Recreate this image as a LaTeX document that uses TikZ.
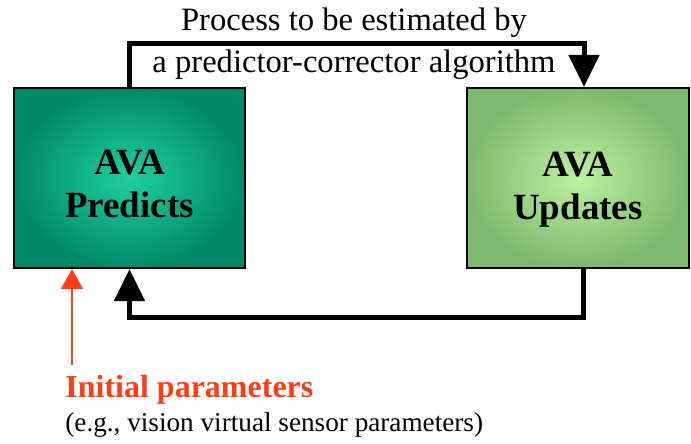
\documentclass[tikz,border=0pt]{standalone}
\usepackage{fontspec}
\setmainfont{Liberation Serif}
\usetikzlibrary{arrows.meta, positioning}

\definecolor{predictdark}{RGB}{0,138,103}
\definecolor{predictlight}{RGB}{30,208,160}
\definecolor{updatedark}{RGB}{125,185,110}
\definecolor{updatelight}{RGB}{188,242,160}
\definecolor{initred}{RGB}{255,60,20}

\begin{document}
\begin{tikzpicture}[
  x=0.5pt, y=-0.5pt,
  stage/.style={rectangle, draw=black, line width=1.1pt, align=center,
    minimum height=90pt, font=\fontsize{18.5}{21.5}\selectfont\bfseries},
  flow/.style={line width=2.5pt, -{Triangle[length=16pt,width=15pt]}},
  initflow/.style={initred, line width=0.8pt, -{Triangle[length=10pt,width=11pt]}},
  >={Triangle[length=16pt,width=15pt]}
]
\useasboundingbox (0,0) rectangle (691,444);

% Nodes
\node[stage, minimum width=115.5pt, shading=radial, inner color=predictlight, outer color=predictdark]
  (predict) at (129.5,178) {\rule{0pt}{18pt}AVA\\Predicts};
\node[stage, minimum width=111pt, shading=radial, inner color=updatelight, outer color=updatedark]
  (update) at (578,178) {\rule{0pt}{24pt}AVA\\Updates};
\node[align=center, font=\fontsize{16.3}{21}\selectfont] (process) at (354,44)
  {Process to be estimated by\\a predictor-corrector algorithm};
\node[anchor=west, text=initred, font=\fontsize{16}{19}\selectfont\bfseries, inner sep=0pt]
  (init) at (65,390) {Initial parameters};
\node[anchor=west, font=\fontsize{13.6}{17}\selectfont, inner sep=0pt]
  (example) at (65,425) {(e.g., vision virtual sensor parameters)};
\coordinate (toprun) at (0,44);
\coordinate (bottomrun) at (0,317);
\coordinate (initstart) at (72,365);
\coordinate (updatein) at ([xshift=3pt]update.north);
\coordinate (updateout) at ([xshift=2.5pt]update.south);

% Arrows
\draw[flow] (predict.north) |- (toprun -| updatein) -- (updatein);
\draw[flow] (updateout) |- (bottomrun -| predict.south) -- (predict.south);
\draw[initflow] (initstart) -- (initstart |- predict.south);

\end{tikzpicture}
\end{document}
